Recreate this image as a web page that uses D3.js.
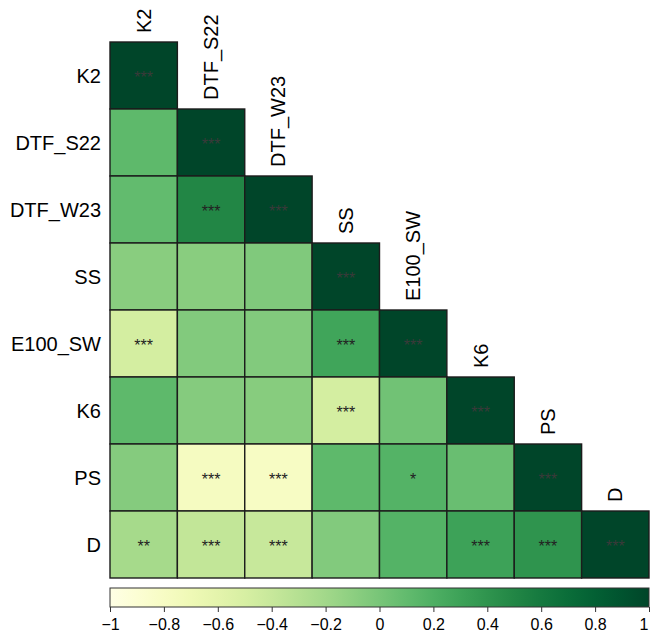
<!DOCTYPE html>
<html>
<head>
<meta charset="utf-8">
<script src="https://cdn.jsdelivr.net/npm/d3@7"></script>
<style>
  html, body { margin: 0; padding: 0; background: #ffffff; }
  svg { display: block; }
  text { font-family: "Liberation Sans", Arial, Helvetica, sans-serif; fill: #000; }
</style>
</head>
<body>
<svg id="chart" width="651" height="638"></svg>
<script>
// Variables, in matrix order
const variables = ["K2", "DTF_S22", "DTF_W23", "SS", "E100_SW", "K6", "PS", "D"];

// Lower-triangle correlation coefficients, one row per variable
const corrK2     = [1];
const corrDTFS22 = [0.12, 1];
const corrDTFW23 = [0.10, 0.50, 1];
const corrSS     = [-0.08, -0.08, -0.04, 1];
const corrE100SW = [-0.48, -0.05, -0.05, 0.28, 1];
const corrK6     = [0.12, -0.06, -0.07, -0.48, 0.03, 1];
const corrPS     = [-0.06, -0.78, -0.80, 0.12, 0.17, 0.07, 1];
const corrD      = [-0.22, -0.37, -0.40, -0.05, 0.17, 0.30, 0.40, 1];

// Significance marks for the same cells
const sigK2     = ["***"];
const sigDTFS22 = ["", "***"];
const sigDTFW23 = ["", "***", "***"];
const sigSS     = ["", "", "", "***"];
const sigE100SW = ["***", "", "", "***", "***"];
const sigK6     = ["", "", "", "***", "", "***"];
const sigPS     = ["", "***", "***", "", "*", "", "***"];
const sigD      = ["**", "***", "***", "", "", "***", "***", "***"];

// Colour-bar tick values
const legendTicks = [-1, -0.8, -0.6, -0.4, -0.2, 0, 0.2, 0.4, 0.6, 0.8, 1];

const corrRows = [corrK2, corrDTFS22, corrDTFW23, corrSS, corrE100SW, corrK6, corrPS, corrD];
const sigRows  = [sigK2, sigDTFS22, sigDTFW23, sigSS, sigE100SW, sigK6, sigPS, sigD];

const cells = [];
corrRows.forEach((row, i) => row.forEach((v, j) => {
  cells.push({ row: variables[i], col: variables[j], i, j, value: v, sig: sigRows[i][j] });
}));

const svg = d3.select("#chart");
const grid = { left: 110, top: 42, right: 649, bottom: 578 };

const x = d3.scaleBand().domain(variables).range([grid.left, grid.right]);
const y = d3.scaleBand().domain(variables).range([grid.top, grid.bottom]);
const color = d3.scaleSequential(d3.interpolateYlGn).domain([-1, 1]);

// Tiles
const g = svg.append("g");
g.selectAll("rect.cell")
  .data(cells)
  .join("rect")
  .attr("class", "cell")
  .attr("x", d => x(d.col))
  .attr("y", d => y(d.row))
  .attr("width", x.bandwidth())
  .attr("height", y.bandwidth())
  .attr("fill", d => color(d.value))
  .attr("stroke", "#1c1c1c")
  .attr("stroke-width", 1.4);

// Significance stars
g.selectAll("text.sig")
  .data(cells.filter(d => d.sig))
  .join("text")
  .attr("class", "sig")
  .attr("x", d => x(d.col) + x.bandwidth() / 2)
  .attr("y", d => y(d.row) + y.bandwidth() / 2 + 7.5)
  .attr("text-anchor", "middle")
  .style("font-size", "16px")
  .style("fill", d => d.i === d.j ? "#3a3a3a" : "#222")
  .text(d => d.sig);

// Row labels
svg.append("g").selectAll("text")
  .data(variables)
  .join("text")
  .attr("x", grid.left - 9)
  .attr("y", d => y(d) + y.bandwidth() / 2)
  .attr("dy", "0.35em")
  .attr("text-anchor", "end")
  .style("font-size", "20px")
  .text(d => d);

// Column labels, rotated, sitting above each diagonal tile
svg.append("g").selectAll("text")
  .data(variables)
  .join("text")
  .attr("transform", d => `translate(${x(d) + x.bandwidth() / 2},${y(d) - 9}) rotate(-90)`)
  .attr("dy", "0.35em")
  .attr("text-anchor", "start")
  .style("font-size", "20px")
  .text(d => d);

// Colour bar
const bar = { top: 588, height: 19 };
const lx = d3.scaleLinear().domain([-1, 1]).range([grid.left, grid.right]);
const defs = svg.append("defs");
const grad = defs.append("linearGradient").attr("id", "corrGrad")
  .attr("x1", "0%").attr("x2", "100%").attr("y1", "0%").attr("y2", "0%");
grad.selectAll("stop")
  .data(d3.range(0, 1.0001, 0.05))
  .join("stop")
  .attr("offset", t => `${t * 100}%`)
  .attr("stop-color", t => color(-1 + 2 * t));

svg.append("rect")
  .attr("x", lx(-1))
  .attr("y", bar.top)
  .attr("width", lx(1) - lx(-1))
  .attr("height", bar.height)
  .attr("fill", "url(#corrGrad)")
  .attr("stroke", "#333")
  .attr("stroke-width", 1);

const axis = d3.axisBottom(lx)
  .tickValues(legendTicks)
  .tickSize(5)
  .tickPadding(7)
  .tickFormat(d3.format("~g"));

const axG = svg.append("g")
  .attr("transform", `translate(0,${bar.top + bar.height})`)
  .call(axis);
axG.select(".domain").remove();
axG.selectAll(".tick line").attr("stroke", "#333");
axG.selectAll(".tick text")
  .style("font-size", "16px")
  .style("font-family", "'Liberation Sans', Arial, sans-serif")
  .attr("fill", "#000");
// keep the last label inside the page edge
axG.selectAll(".tick text").filter(d => d === 1)
  .attr("text-anchor", "end")
  .attr("dx", "-1px");
</script>
</body>
</html>
